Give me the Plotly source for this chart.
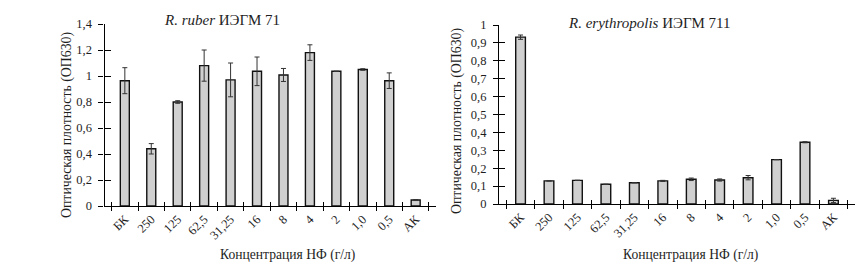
import plotly.graph_objects as go

categories = ["БК", "250", "125", "62,5", "31,25", "16", "8", "4", "2", "1,0", "0,5", "АК"]

ruber_values = [0.964, 0.44, 0.80, 1.08, 0.97, 1.036, 1.008, 1.18, 1.036, 1.05, 0.964, 0.046]
ruber_errors = [0.10, 0.04, 0.01, 0.12, 0.13, 0.11, 0.05, 0.06, 0.0, 0.006, 0.06, 0.004]

eryth_values = [0.932, 0.129, 0.132, 0.110, 0.119, 0.129, 0.138, 0.134, 0.147, 0.248, 0.345, 0.020]
eryth_errors = [0.012, 0.0, 0.0, 0.0, 0.0, 0.003, 0.007, 0.006, 0.012, 0.0, 0.003, 0.012]

left_title = "<i>R. ruber</i> ИЭГМ 71"
right_title = "<i>R. erythropolis</i> ИЭГМ 711"
y_title = "Оптическая плотность (ОП630)"
x_title = "Концентрация НФ (г/л)"

FONT = "Liberation Serif"
TXT = "#1e1e1e"
W, H = 865, 275
OFF = 8  # page offset of the plot div


def px(x):
    return (x - OFF) / W


def py(y):
    return 1 - (y - OFF) / H


bar_style = dict(marker=dict(color="#d0d0d0", line=dict(color="#111", width=1.4)),
                 showlegend=False, hoverinfo="skip")
err_style = dict(type="data", symmetric=True, color="#333333", thickness=1, width=2.5)

fig = go.Figure()
fig.add_trace(go.Bar(x=categories, y=ruber_values, xaxis="x", yaxis="y",
                     error_y=dict(array=ruber_errors, **err_style), **bar_style))
fig.add_trace(go.Bar(x=categories, y=eryth_values, xaxis="x2", yaxis="y2",
                     error_y=dict(array=eryth_errors, **err_style), **bar_style))
# invisible copies that carry the inner half of the crossing tick marks
ghost = dict(mode="markers", marker=dict(opacity=0), showlegend=False, hoverinfo="skip")
fig.add_trace(go.Scatter(x=categories, y=ruber_values, xaxis="x3", yaxis="y3", **ghost))
fig.add_trace(go.Scatter(x=categories, y=eryth_values, xaxis="x4", yaxis="y4", **ghost))

tickfont = dict(family=FONT, size=12.5, color=TXT)
xaxis_common = dict(type="category", tickson="boundaries", ticks="outside", ticklen=4,
                    tickwidth=1, tickcolor="black", showline=True, linecolor="black",
                    linewidth=1.2, tickangle=-45, showgrid=False, zeroline=False,
                    automargin=False, tickfont=tickfont)
yaxis_common = dict(ticks="outside", ticklen=5, tickwidth=1, tickcolor="black",
                    showline=True, linecolor="black", linewidth=1.2, showgrid=False,
                    zeroline=False, automargin=False, tickfont=tickfont,
                    ticklabelstandoff=4)
inner_x = dict(type="category", tickson="boundaries", ticks="inside", ticklen=4,
               tickwidth=1, tickcolor="black", showline=False, showgrid=False,
               zeroline=False, showticklabels=False, automargin=False)
inner_y = dict(ticks="inside", ticklen=6, tickwidth=1, tickcolor="black",
               showline=False, showgrid=False, zeroline=False, showticklabels=False,
               automargin=False)


def ann(text, x, y, size, angle=0):
    return dict(text=text, x=px(x), y=py(y), xref="paper", yref="paper",
                xanchor="center", yanchor="middle", showarrow=False, textangle=angle,
                font=dict(family=FONT, size=size, color=TXT))


fig.update_layout(
    width=W, height=H,
    margin=dict(l=0, r=0, t=0, b=0, autoexpand=False),
    paper_bgcolor="white", plot_bgcolor="white",
    separators=", ",
    bargap=0.66,
    font=dict(family=FONT, color=TXT),
    xaxis=dict(domain=[px(104.5), px(436)], anchor="y", **xaxis_common),
    yaxis=dict(domain=[py(206), py(24)], anchor="x", range=[0, 1.4], dtick=0.2,
               **yaxis_common),
    xaxis2=dict(domain=[px(499), px(855)], anchor="y2", **xaxis_common),
    yaxis2=dict(domain=[py(204), py(25)], anchor="x2", range=[0, 1.0], dtick=0.1,
                **yaxis_common),
    xaxis3=dict(overlaying="x", matches="x", anchor="y3", **inner_x),
    yaxis3=dict(overlaying="y", matches="y", anchor="x3", dtick=0.2, **inner_y),
    xaxis4=dict(overlaying="x2", matches="x2", anchor="y4", **inner_x),
    yaxis4=dict(overlaying="y2", matches="y2", anchor="x4", dtick=0.1, **inner_y),
    annotations=[
        ann(left_title, 222, 20, 15),
        ann(right_title, 649, 23, 15),
        ann(y_title, 67, 125, 13.8, -90),
        ann(y_title, 457, 121, 13.8, -90),
        ann(x_title, 287, 255, 13.6),
        ann(x_title, 690, 255, 13.6),
    ],
)

fig.write_html("out.html")
